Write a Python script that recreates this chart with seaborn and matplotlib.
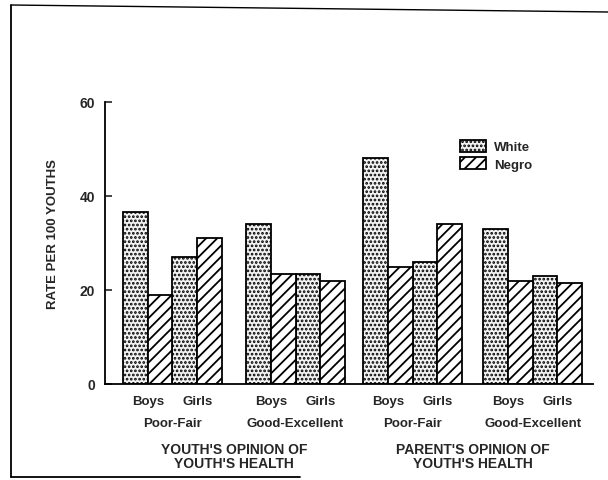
import matplotlib
matplotlib.use("Agg")
import matplotlib.pyplot as plt
from matplotlib.lines import Line2D
from matplotlib.patches import Patch
import seaborn as sns
import pandas as pd
import numpy as np

# ---- data ----
sexes = ["Boys", "Girls"]
opinions = ["Poor-Fair", "Good-Excellent"]
raters = ["YOUTH'S OPINION OF\nYOUTH'S HEALTH", "PARENT'S OPINION OF\nYOUTH'S HEALTH"]
races = ["White", "Negro"]
# order: Youth PF Boys, Youth PF Girls, Youth GE Boys, Youth GE Girls, Parent PF Boys, ...
white = [36.5, 27.0, 34.0, 23.5, 48.0, 26.0, 33.0, 23.0]
negro = [19.0, 31.0, 23.5, 22.0, 25.0, 34.0, 22.0, 21.5]
yticks = [0, 20, 40, 60]

# ---- layout (in bar-width units) ----
group_starts = [0.0, 4.97, 9.70, 14.55]
pair_pos = []
for s in group_starts:
    pair_pos += [s + 1, s + 3]

rows = []
for i, p in enumerate(pair_pos):
    rows.append({"pos": p, "race": "White", "rate": white[i]})
    rows.append({"pos": p, "race": "Negro", "rate": negro[i]})
df = pd.DataFrame(rows)

sns.set_style("white")
plt.rcParams["font.family"] = ["Liberation Sans", "DejaVu Sans"]
plt.rcParams["hatch.linewidth"] = 1.3

WHITE_FACE = "#f2f2f2"
WHITE_HATCH = "...."

fig = plt.figure(figsize=(6.08, 4.81), dpi=100)
ax = fig.add_axes([105 / 608, 1 - 385 / 481, (593 - 105) / 608, (385 - 103) / 481])

sns.barplot(data=df, x="pos", y="rate", hue="race", hue_order=races,
            native_scale=True, width=1.0, dodge=True, gap=0,
            palette={"White": WHITE_FACE, "Negro": "white"},
            edgecolor="black", linewidth=1.3, errorbar=None, legend=False, ax=ax)

hatches = {"White": WHITE_HATCH, "Negro": "///"}
for cont, race in zip(ax.containers, races):
    for bar in cont:
        bar.set_hatch(hatches[race])

ax.set_xlim(-0.727, 18.99)
ax.set_ylim(0, 60)
ax.set_yticks(yticks)
ax.set_yticklabels([str(t) for t in yticks], fontsize=10, fontweight="bold")
ax.tick_params(axis="y", direction="in", length=5, width=1.2, pad=7, left=True)
ax.set_xticks(pair_pos)
ax.set_xticklabels(sexes * 4, fontsize=9.5, fontweight="bold")
ax.tick_params(axis="x", length=0, pad=8)
ax.set_xlabel("")
ax.set_ylabel("RATE PER 100 YOUTHS", fontsize=9.5, fontweight="bold", labelpad=0)
ax.yaxis.set_label_coords(-0.095, (385 - 234) / 282)

for sp in ["top", "right"]:
    ax.spines[sp].set_visible(False)
for sp in ["left", "bottom"]:
    ax.spines[sp].set_linewidth(1.3)
    ax.spines[sp].set_color("black")

xt = ax.get_xaxis_transform()
for g, s in enumerate(group_starts):
    ax.text(s + 2, (385 - 424) / 282, opinions[g % 2], transform=xt,
            ha="center", va="center", fontsize=9.5, fontweight="bold")
for h in range(2):
    c = (group_starts[2 * h] + group_starts[2 * h + 1] + 4) / 2
    ax.text(c, (385 - 457.5) / 282, raters[h], transform=xt, ha="center",
            va="center", fontsize=10, fontweight="semibold", linespacing=1.0)

handles = [Patch(facecolor=WHITE_FACE, edgecolor="black", hatch=WHITE_HATCH, linewidth=1.3),
           Patch(facecolor="white", edgecolor="black", hatch="///", linewidth=1.3)]
fig.legend(handles, races, loc="upper left", bbox_to_anchor=(460 / 608, 1 - 141 / 481),
           frameon=False, prop={"weight": "bold", "size": 9.5},
           handlelength=2.0, handleheight=1.0, borderpad=0, borderaxespad=0,
           handletextpad=0.6, labelspacing=0.3)

# scanned page frame
fig.add_artist(Line2D([11 / 608, 1.0], [1 - 6 / 481, 1 - 13 / 481], color="black", lw=1.0))
fig.add_artist(Line2D([11 / 608, 11 / 608], [1 - 6 / 481, 1 - 478 / 481], color="black", lw=1.3))
fig.add_artist(Line2D([11 / 608, 300 / 608], [1 - 478 / 481, 1 - 478 / 481], color="black", lw=1.3))

fig.savefig("out.png", dpi=100)
